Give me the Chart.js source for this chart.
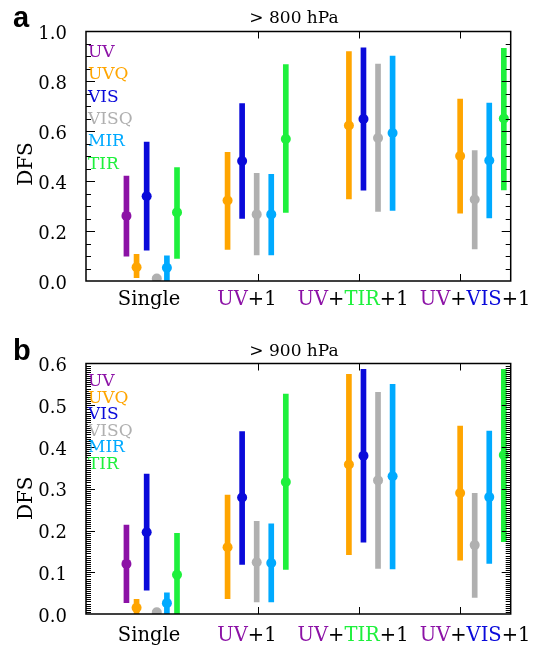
<!DOCTYPE html>
<html>
<head>
<meta charset="utf-8">
<script src="https://cdn.jsdelivr.net/npm/chart.js@4"></script>
<style>
html, body { margin: 0; padding: 0; background: #fff; }
#wrap { position: relative; width: 539px; height: 653px; }
canvas { position: absolute; left: 0; }
</style>
</head>
<body>
<div id="wrap">
  <canvas id="chartA" width="539" height="326" style="top:0"></canvas>
  <canvas id="chartB" width="539" height="327" style="top:326px"></canvas>
</div>
<script>
const groups = ['Single', 'UV+1', 'UV+TIR+1', 'UV+VIS+1'];
const instruments = ['UV', 'UVQ', 'VIS', 'VISQ', 'MIR', 'TIR'];

// DFS per group as [low, centre, high]; null = not shown
// > 800 hPa
const uv800   = [[0.100, 0.261, 0.421], null, null, null];
const uvq800  = [[0.013, 0.055, 0.107], [0.127, 0.323, 0.516], [0.329, 0.623, 0.920], [0.272, 0.501, 0.729]];
const vis800  = [[0.124, 0.340, 0.557], [0.251, 0.481, 0.711], [0.364, 0.649, 0.935], null];
const visq800 = [[0.000, 0.010, 0.020], [0.105, 0.267, 0.432], [0.279, 0.573, 0.869], [0.129, 0.327, 0.523]];
const mir800  = [[0.000, 0.053, 0.101], [0.105, 0.267, 0.428], [0.283, 0.593, 0.901], [0.253, 0.483, 0.713]];
const tir800  = [[0.091, 0.275, 0.455], [0.275, 0.569, 0.867], null, [0.365, 0.651, 0.933]];

// > 900 hPa
const uv900   = [[0.027, 0.120, 0.213], null, null, null];
const uvq900  = [[0.000, 0.015, 0.035], [0.037, 0.160, 0.285], [0.142, 0.358, 0.574], [0.129, 0.290, 0.450]];
const vis900  = [[0.057, 0.196, 0.335], [0.119, 0.279, 0.437], [0.172, 0.379, 0.586], null];
const visq900 = [[0.000, 0.004, 0.008], [0.029, 0.124, 0.222], [0.109, 0.320, 0.531], [0.040, 0.165, 0.289]];
const mir900  = [[0.000, 0.026, 0.051], [0.029, 0.122, 0.216], [0.108, 0.330, 0.550], [0.121, 0.280, 0.438]];
const tir900  = [[0.000, 0.094, 0.193], [0.107, 0.316, 0.527], null, [0.173, 0.381, 0.586]];

const colors = ['#8c12a6', '#ffa500', '#0a0ada', '#b0b0b0', '#00aaff', '#1ef03c'];

// layout along x (axis units)
const groupStart = [0.7, 1.7, 2.9, 4.0];
const groupStep = [0.1, 0.144, 0.144, 0.144];
const labelX = [0.923, 1.892, 2.941, 4.148];
const xTicks = [2, 3, 4];

const labelParts = [
    [['Single', '#000']],
    [['UV', colors[0]], ['+1', '#000']],
    [['UV', colors[0]], ['+', '#000'], ['TIR', colors[5]], ['+1', '#000']],
    [['UV', colors[0]], ['+', '#000'], ['VIS', colors[2]], ['+1', '#000']]
];

function buildDatasets(series) {
    // x of each bar: consecutive slots inside its group
    const xpos = series.map(() => []);
    groups.forEach((g, gi) => {
        let k = 0;
        series.forEach((s, i) => {
            if (s[gi]) { xpos[i][gi] = groupStart[gi] + groupStep[gi] * k; k++; }
        });
    });
    const ds = [];
    series.forEach((s, i) => {
        const bars = [], pts = [];
        s.forEach((v, gi) => {
            if (!v) return;
            bars.push({ x: xpos[i][gi], y: [v[0], v[2]] });
            pts.push({ x: xpos[i][gi], y: v[1] });
        });
        ds.push({
            type: 'bar', label: instruments[i], data: bars,
            backgroundColor: colors[i], borderWidth: 0,
            barThickness: 5, grouped: false, order: 2
        });
        ds.push({
            type: 'scatter', label: instruments[i], data: pts,
            backgroundColor: colors[i], borderColor: colors[i], borderWidth: 0,
            pointRadius: 5, pointStyle: 'circle', order: 1, clip: 0
        });
    });
    return ds;
}

const decor = {
    id: 'decor',
    afterDraw(chart, args, o) {
        const { ctx, chartArea: a, scales: { x, y } } = chart;
        ctx.save();
        ctx.strokeStyle = '#000';
        ctx.lineWidth = 1;
        // inward ticks on left and right
        const n = Math.round(o.yMax / o.minor);
        ctx.beginPath();
        for (let i = 1; i < n; i++) {
            const v = i * o.minor;
            const py = Math.round(y.getPixelForValue(v)) + 0.5;
            const r = v / o.major;
            const len = Math.abs(r - Math.round(r)) < 1e-6 ? 9 : 5;
            ctx.moveTo(a.left, py); ctx.lineTo(a.left + len, py);
            ctx.moveTo(a.right - len, py); ctx.lineTo(a.right, py);
        }
        xTicks.forEach(v => {
            const px = Math.round(x.getPixelForValue(v)) + 0.5;
            ctx.moveTo(px, a.bottom); ctx.lineTo(px, a.bottom - 7);
            ctx.moveTo(px, a.top); ctx.lineTo(px, a.top + 7);
        });
        ctx.stroke();
        ctx.lineWidth = 1.5;
        ctx.strokeRect(a.left, a.top, a.right - a.left, a.bottom - a.top);

        // in-plot legend
        ctx.font = '17px "DejaVu Serif"';
        ctx.textAlign = 'left';
        ctx.textBaseline = 'alphabetic';
        instruments.forEach((name, i) => {
            ctx.fillStyle = colors[i];
            ctx.fillText(name, a.left + 2, o.legendBase + i * o.legendGap);
        });

        // group labels, coloured by part
        ctx.font = '19.5px "DejaVu Serif"';
        labelParts.forEach((parts, gi) => {
            const w = parts.reduce((s, p) => s + ctx.measureText(p[0]).width, 0);
            let cx = x.getPixelForValue(labelX[gi]) - w / 2;
            parts.forEach(p => {
                ctx.fillStyle = p[1];
                ctx.fillText(p[0], cx, o.labelBase);
                cx += ctx.measureText(p[0]).width;
            });
        });

        // title and panel letter
        ctx.fillStyle = '#000';
        ctx.font = '17px "DejaVu Serif"';
        ctx.textAlign = 'center';
        ctx.fillText(o.title, 294, o.titleBase);
        ctx.font = 'bold 29px "Liberation Sans"';
        ctx.textAlign = 'left';
        ctx.fillText(o.letter, 13, o.titleBase + 3.5);

        // y title
        ctx.font = '20px "DejaVu Serif"';
        ctx.textAlign = 'center';
        ctx.translate(31.5, o.dfsY);
        ctx.rotate(-Math.PI / 2);
        ctx.fillText('DFS', 0, 0);
        ctx.restore();
    }
};

function makeChart(id, series, yMax, step, minor, pad, opts) {
    return new Chart(document.getElementById(id), {
        type: 'bar',
        data: { datasets: buildDatasets(series) },
        options: {
            responsive: false,
            animation: false,
            devicePixelRatio: 1,
            layout: { padding: { left: 0, right: 28.3, top: pad[0], bottom: pad[1] } },
            scales: {
                x: { type: 'linear', min: 0.3, max: 4.5, offset: false, display: false },
                y: {
                    min: 0, max: yMax,
                    grid: { display: false },
                    border: { display: false },
                    ticks: {
                        stepSize: step,
                        padding: 11,
                        labelOffset: 3,
                        color: '#000',
                        font: { family: 'DejaVu Serif', size: 18 },
                        callback: v => v.toFixed(1)
                    },
                    afterFit: s => { s.width = 86; }
                }
            },
            plugins: {
                legend: { display: false },
                tooltip: { enabled: false },
                decor: Object.assign({ yMax: yMax, major: step, minor: minor }, opts)
            }
        },
        plugins: [decor]
    });
}

makeChart('chartA', [uv800, uvq800, vis800, visq800, mir800, tir800], 1.0, 0.2, 0.05, [31.5, 45], {
    title: '> 800 hPa', letter: 'a', titleBase: 23,
    legendBase: 56.7, legendGap: 22.4, labelBase: 305, dfsY: 164
});
makeChart('chartB', [uv900, uvq900, vis900, visq900, mir900, tir900], 0.6, 0.1, 0.005, [37.5, 39], {
    title: '> 900 hPa', letter: 'b', titleBase: 30,
    legendBase: 60, legendGap: 16.56, labelBase: 314.7, dfsY: 172.3
});
</script>
</body>
</html>
